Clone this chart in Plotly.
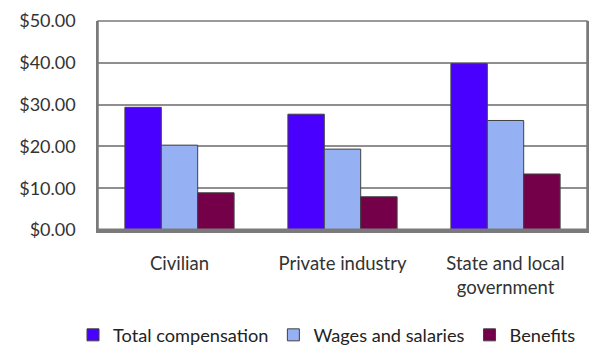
import plotly.graph_objects as go

categories = ["Civilian", "Private industry", "State and local<br>government"]
series_names = ["Total compensation", "Wages and salaries", "Benefits"]
total_comp = [29.35, 27.70, 39.80]
wages = [20.30, 19.35, 26.20]
benefits = [8.90, 7.95, 13.40]
colors = ["#4A00FF", "#95B1F4", "#75004A"]
y_ticks = [0, 10, 20, 30, 40, 50]
y_tick_labels = ["$0.00", "$10.00", "$20.00", "$30.00", "$40.00", "$50.00"]

fig = go.Figure()
for name, vals, col in zip(series_names, [total_comp, wages, benefits], colors):
    fig.add_trace(go.Bar(
        x=categories, y=vals, name=name,
        marker=dict(color=col, line=dict(color="#404040", width=1)),
    ))

# page body has an 8px default margin; size the figure to fit inside the window
W, H = 597, 354
ML, MR, MT, MB = 90, 18, 13, 132
PW, PH = W - ML - MR, H - MT - MB
font_family = "Lato, Carlito, Calibri, sans-serif"
fig.update_layout(
    width=W, height=H,
    margin=dict(l=ML, r=MR, t=MT, b=MB, autoexpand=False),
    paper_bgcolor="white", plot_bgcolor="white",
    barmode="group", bargap=0.33, bargroupgap=0,
    font=dict(family=font_family, size=18, color="#333333"),
    showlegend=True,
    legend=dict(orientation="h",
                x=(65 - ML) / PW, xanchor="left",
                y=(H - MB - 327) / PH, yanchor="middle",
                font=dict(size=18.2, color="#222222"), traceorder="normal",
                itemwidth=30),
)
fig.update_xaxes(
    showline=True, linecolor="#7a7a7a", linewidth=3, mirror=False,
    ticks="", tickfont=dict(size=18.5), ticklabelstandoff=15,
)
fig.update_yaxes(
    range=[0, 50], tickvals=y_ticks, ticktext=y_tick_labels,
    showgrid=True, gridcolor="#8f8f8f", gridwidth=1.5,
    showline=True, linecolor="#7a7a7a", linewidth=1.5, mirror=True,
    zeroline=False, ticks="", ticklabelstandoff=17, tickfont=dict(size=18),
)
fig.add_shape(type="rect", xref="paper", yref="paper", x0=0, x1=1, y0=0, y1=1,
              line=dict(color="#7a7a7a", width=1.5), layer="above")
fig.add_shape(type="line", xref="paper", yref="paper", x0=0, x1=1, y0=0, y1=0,
              line=dict(color="#7a7a7a", width=3), layer="above")

fig.write_html("out.html")
